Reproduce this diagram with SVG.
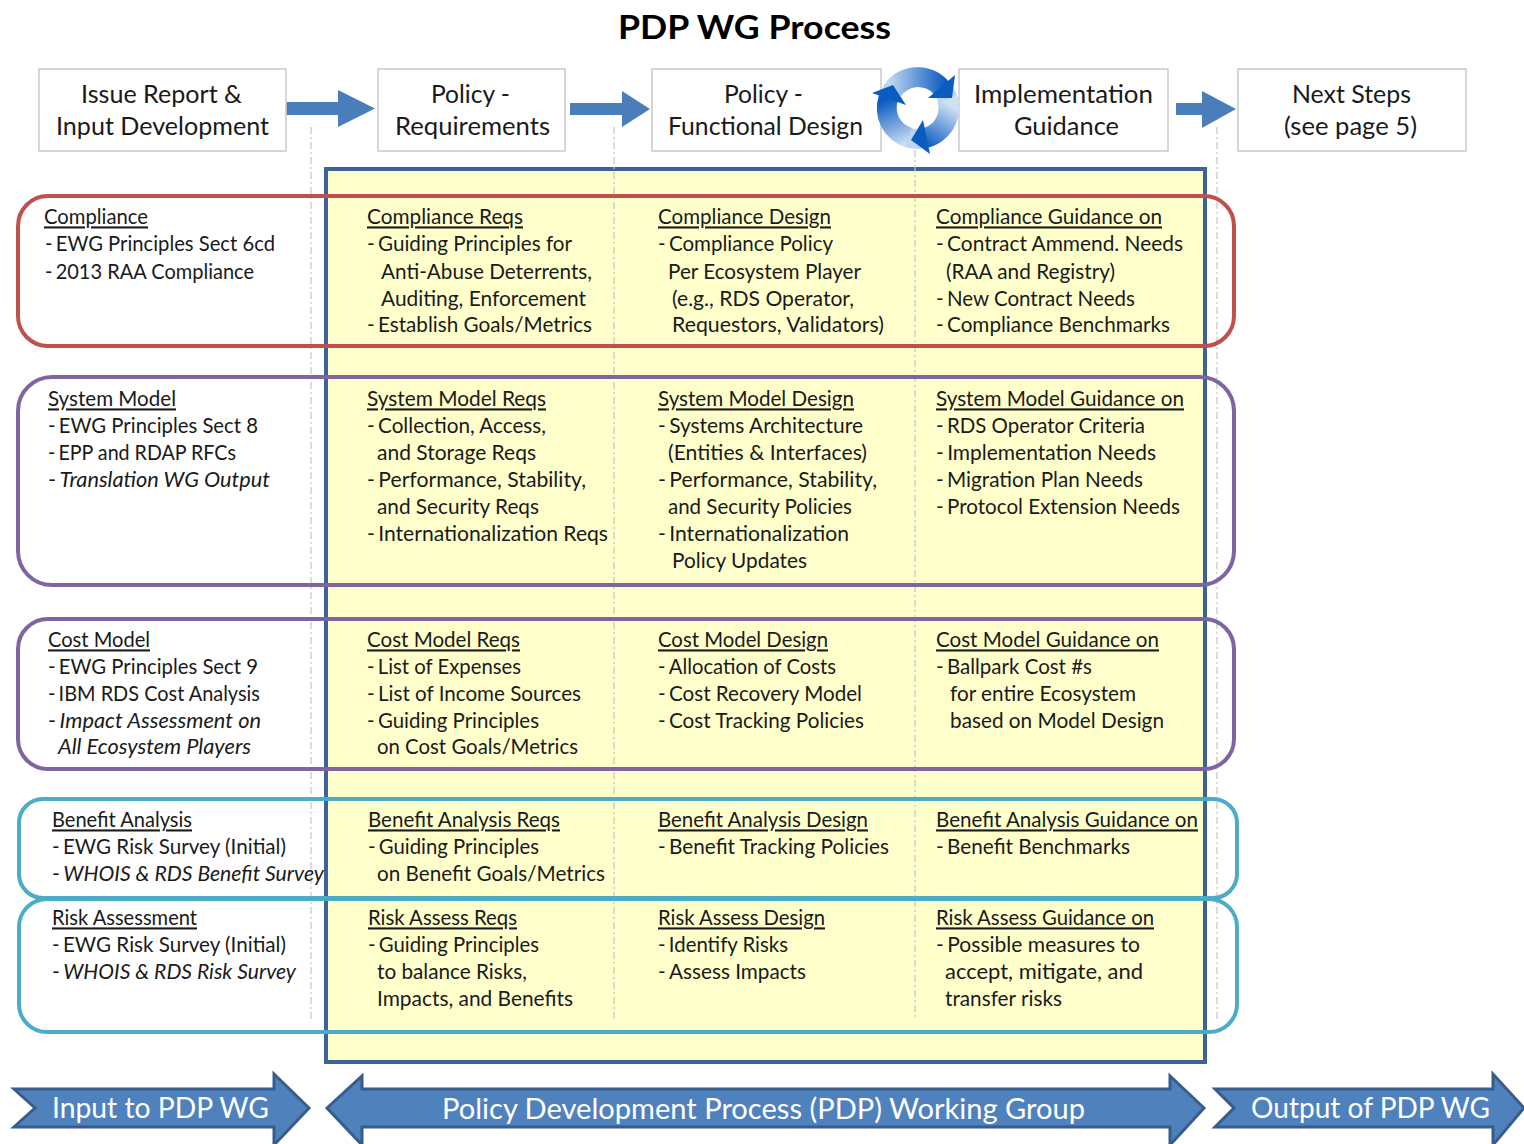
<svg xmlns="http://www.w3.org/2000/svg" width="1524" height="1144" viewBox="0 0 1524 1144">
<style>
text{font-family:Lato,"Liberation Sans",sans-serif;fill:#1a1a1a}
.b{font-size:21px}
.u{text-decoration:underline}
.i{font-style:italic}
.d{word-spacing:-2px}
.h{font-size:24.5px}
.t{font-size:33px;font-weight:700;fill:#000}
.w{font-size:28px;fill:#fff}
.box{fill:#fff;stroke:#cdcdcd;stroke-width:1.6}
.row{fill:none;stroke-width:4}
.red{stroke:#c0504d}.pur{stroke:#8064a2}.teal{stroke:#4bacc6}
.big{fill:#4f81bd;stroke:#385d8a;stroke-width:3}
.arr{fill:#4a7ebb}
.dash{stroke:#c4c4c4;stroke-width:1.2;stroke-dasharray:7 3 2 3;fill:none}
</style>
<defs>
<linearGradient id="gTop" gradientUnits="userSpaceOnUse" x1="885" y1="88" x2="945" y2="88"><stop offset="0" stop-color="#cfe0f3"/><stop offset="1" stop-color="#0a5cc0"/></linearGradient>
<linearGradient id="gRight" gradientUnits="userSpaceOnUse" x1="950" y1="105" x2="925" y2="145"><stop offset="0" stop-color="#cfe0f3"/><stop offset="1" stop-color="#0a5cc0"/></linearGradient>
<linearGradient id="gLeft" gradientUnits="userSpaceOnUse" x1="905" y1="145" x2="885" y2="100"><stop offset="0" stop-color="#cfe0f3"/><stop offset="1" stop-color="#0a5cc0"/></linearGradient>
</defs>

<text class="t" x="618" y="39" textLength="273" lengthAdjust="spacingAndGlyphs">PDP WG Process</text>

<g id="pdp-panel"><rect x="326" y="169" width="879" height="893" fill="#ffffcc" stroke="#3c6296" stroke-width="4"/></g>

<g id="guides">
<path class="dash" d="M311 127V1020M614 127V1020M915 150V1020M1217 127V1020"/>
</g>

<g id="connectors">
<polygon class="arr" points="286,102 338,102 338,90 375,108.500 338,127 338,115 286,115"/>
<polygon class="arr" points="570,103 622,103 622,91 650,109 622,127 622,115 570,115"/>
<polygon class="arr" points="1176,103 1202,103 1202,91 1236,109 1202,128 1202,115 1176,115"/>
</g>

<g id="step-issue"><rect class="box" x="39" y="69" width="247" height="82"/>
<text class="h" x="81" y="103" textLength="161" lengthAdjust="spacingAndGlyphs">Issue Report &amp;</text>
<text class="h" x="56" y="135" textLength="213" lengthAdjust="spacingAndGlyphs">Input Development</text></g>
<g id="step-req"><rect class="box" x="378" y="69" width="187" height="82"/>
<text class="h" x="431" y="103" textLength="79" lengthAdjust="spacingAndGlyphs">Policy -</text>
<text class="h" x="395" y="135" textLength="155" lengthAdjust="spacingAndGlyphs">Requirements</text></g>
<g id="step-design"><rect class="box" x="652" y="69" width="229" height="82"/>
<text class="h" x="724" y="103" textLength="79" lengthAdjust="spacingAndGlyphs">Policy -</text>
<text class="h" x="668" y="135" textLength="195" lengthAdjust="spacingAndGlyphs">Functional Design</text></g>
<g id="step-impl"><rect class="box" x="959" y="69" width="209" height="82"/>
<text class="h" x="974" y="103" textLength="179" lengthAdjust="spacingAndGlyphs">Implementation</text>
<text class="h" x="1014" y="135" textLength="105" lengthAdjust="spacingAndGlyphs">Guidance</text></g>
<g id="step-next"><rect class="box" x="1238" y="69" width="228" height="82"/>
<text class="h" x="1292" y="103" textLength="119" lengthAdjust="spacingAndGlyphs">Next Steps</text>
<text class="h" x="1284" y="135" textLength="133" lengthAdjust="spacingAndGlyphs">(see page 5)</text></g>

<g id="cycle">
<path fill-rule="evenodd" fill="#bcd5f0" d="M877 108a41 41 0 1 0 82 0a41 41 0 1 0-82 0ZM897 108a21 21 0 1 1 42 0a21 21 0 1 1-42 0Z"/>
<path fill="url(#gTop)" d="M886 82A41 41 0 0 1 949 82L934 94A21 21 0 0 0 901 96Z"/>
<path fill="url(#gRight)" d="M957 95A41 41 0 0 1 926 148L922 128.600A21 21 0 0 0 938 103Z"/>
<path fill="url(#gLeft)" d="M905 147A41 41 0 0 1 879 95L898 100A21 21 0 0 0 912 128Z"/>
<polygon fill="#0a5cc0" points="955,75 952,98 928,98"/>
<polygon fill="#0a5cc0" points="930,154 911,140 923,120"/>
<polygon fill="#0a5cc0" points="872,93 893,85 906,105"/>
</g>

<g id="row-compliance"><rect class="row red" x="18" y="196" width="1216" height="150" rx="30"/>
<g transform="translate(0,-0.6)">
<text class="b u" x="44" y="225" textLength="104" lengthAdjust="spacingAndGlyphs">Compliance</text>
<text class="b" x="45" y="252" textLength="230" lengthAdjust="spacingAndGlyphs"><tspan class="d">- </tspan>EWG Principles Sect 6cd</text>
<text class="b" x="45" y="279.600" textLength="209" lengthAdjust="spacingAndGlyphs"><tspan class="d">- </tspan>2013 RAA Compliance</text>
<text class="b u" x="367" y="225" textLength="156" lengthAdjust="spacingAndGlyphs">Compliance Reqs</text>
<text class="b" x="367" y="252" textLength="205" lengthAdjust="spacingAndGlyphs"><tspan class="d">- </tspan>Guiding Principles for</text>
<text class="b" x="381" y="279.600" textLength="211" lengthAdjust="spacingAndGlyphs">Anti-Abuse Deterrents,</text>
<text class="b" x="381" y="307" textLength="205" lengthAdjust="spacingAndGlyphs">Auditing, Enforcement</text>
<text class="b" x="367" y="332.600" textLength="225" lengthAdjust="spacingAndGlyphs"><tspan class="d">- </tspan>Establish Goals/Metrics</text>
<text class="b u" x="658" y="225" textLength="173" lengthAdjust="spacingAndGlyphs">Compliance Design</text>
<text class="b" x="658" y="252" textLength="175" lengthAdjust="spacingAndGlyphs"><tspan class="d">- </tspan>Compliance Policy</text>
<text class="b" x="668" y="279.600" textLength="193" lengthAdjust="spacingAndGlyphs">Per Ecosystem Player</text>
<text class="b" x="672" y="307" textLength="182" lengthAdjust="spacingAndGlyphs">(e.g., RDS Operator,</text>
<text class="b" x="672" y="332.600" textLength="212" lengthAdjust="spacingAndGlyphs">Requestors, Validators)</text>
<text class="b u" x="936" y="225" textLength="226" lengthAdjust="spacingAndGlyphs">Compliance Guidance on</text>
<text class="b" x="936" y="252" textLength="247" lengthAdjust="spacingAndGlyphs"><tspan class="d">- </tspan>Contract Ammend. Needs</text>
<text class="b" x="946" y="279.600" textLength="169" lengthAdjust="spacingAndGlyphs">(RAA and Registry)</text>
<text class="b" x="936" y="307" textLength="199" lengthAdjust="spacingAndGlyphs"><tspan class="d">- </tspan>New Contract Needs</text>
<text class="b" x="936" y="332.600" textLength="234" lengthAdjust="spacingAndGlyphs"><tspan class="d">- </tspan>Compliance Benchmarks</text>
</g></g>

<g id="row-system"><rect class="row pur" x="18" y="377" width="1216" height="208" rx="34"/>
<g transform="translate(0,-0.6)">
<text class="b u" x="48" y="407" textLength="128" lengthAdjust="spacingAndGlyphs">System Model</text>
<text class="b" x="48" y="434" textLength="210" lengthAdjust="spacingAndGlyphs"><tspan class="d">- </tspan>EWG Principles Sect 8</text>
<text class="b" x="48" y="461" textLength="188" lengthAdjust="spacingAndGlyphs"><tspan class="d">- </tspan>EPP and RDAP RFCs</text>
<text class="b" x="48" y="488" textLength="222" lengthAdjust="spacingAndGlyphs"><tspan class="d">- </tspan><tspan class="i">Translation WG Output</tspan></text>
<text class="b u" x="367" y="407" textLength="179" lengthAdjust="spacingAndGlyphs">System Model Reqs</text>
<text class="b" x="367" y="434" textLength="179" lengthAdjust="spacingAndGlyphs"><tspan class="d">- </tspan>Collection, Access,</text>
<text class="b" x="377" y="461" textLength="159" lengthAdjust="spacingAndGlyphs">and Storage Reqs</text>
<text class="b" x="367" y="488" textLength="219" lengthAdjust="spacingAndGlyphs"><tspan class="d">- </tspan>Performance, Stability,</text>
<text class="b" x="377" y="515" textLength="162" lengthAdjust="spacingAndGlyphs">and Security Reqs</text>
<text class="b" x="367" y="542" textLength="241" lengthAdjust="spacingAndGlyphs"><tspan class="d">- </tspan>Internationalization Reqs</text>
<text class="b u" x="658" y="407" textLength="196" lengthAdjust="spacingAndGlyphs">System Model Design</text>
<text class="b" x="658" y="434" textLength="205" lengthAdjust="spacingAndGlyphs"><tspan class="d">- </tspan>Systems Architecture</text>
<text class="b" x="668" y="461" textLength="199" lengthAdjust="spacingAndGlyphs">(Entities &amp; Interfaces)</text>
<text class="b" x="658" y="488" textLength="219" lengthAdjust="spacingAndGlyphs"><tspan class="d">- </tspan>Performance, Stability,</text>
<text class="b" x="668" y="515" textLength="184" lengthAdjust="spacingAndGlyphs">and Security Policies</text>
<text class="b" x="658" y="542" textLength="191" lengthAdjust="spacingAndGlyphs"><tspan class="d">- </tspan>Internationalization</text>
<text class="b" x="672" y="569" textLength="135" lengthAdjust="spacingAndGlyphs">Policy Updates</text>
<text class="b u" x="936" y="407" textLength="248" lengthAdjust="spacingAndGlyphs">System Model Guidance on</text>
<text class="b" x="936" y="434" textLength="209" lengthAdjust="spacingAndGlyphs"><tspan class="d">- </tspan>RDS Operator Criteria</text>
<text class="b" x="936" y="461" textLength="220" lengthAdjust="spacingAndGlyphs"><tspan class="d">- </tspan>Implementation Needs</text>
<text class="b" x="936" y="488" textLength="207" lengthAdjust="spacingAndGlyphs"><tspan class="d">- </tspan>Migration Plan Needs</text>
<text class="b" x="936" y="515" textLength="244" lengthAdjust="spacingAndGlyphs"><tspan class="d">- </tspan>Protocol Extension Needs</text>
</g></g>

<g id="row-cost"><rect class="row pur" x="18" y="619" width="1216" height="150" rx="30"/>
<g transform="translate(0,-0.6)">
<text class="b u" x="48" y="648" textLength="102" lengthAdjust="spacingAndGlyphs">Cost Model</text>
<text class="b" x="48" y="675" textLength="210" lengthAdjust="spacingAndGlyphs"><tspan class="d">- </tspan>EWG Principles Sect 9</text>
<text class="b" x="48" y="702" textLength="212" lengthAdjust="spacingAndGlyphs"><tspan class="d">- </tspan>IBM RDS Cost Analysis</text>
<text class="b" x="48" y="729" textLength="213" lengthAdjust="spacingAndGlyphs"><tspan class="d">- </tspan><tspan class="i">Impact Assessment on</tspan></text>
<text class="b i" x="58" y="755" textLength="193" lengthAdjust="spacingAndGlyphs">All Ecosystem Players</text>
<text class="b u" x="367" y="648" textLength="153" lengthAdjust="spacingAndGlyphs">Cost Model Reqs</text>
<text class="b" x="367" y="675" textLength="154" lengthAdjust="spacingAndGlyphs"><tspan class="d">- </tspan>List of Expenses</text>
<text class="b" x="367" y="702" textLength="214" lengthAdjust="spacingAndGlyphs"><tspan class="d">- </tspan>List of Income Sources</text>
<text class="b" x="367" y="729" textLength="172" lengthAdjust="spacingAndGlyphs"><tspan class="d">- </tspan>Guiding Principles</text>
<text class="b" x="377" y="755" textLength="201" lengthAdjust="spacingAndGlyphs">on Cost Goals/Metrics</text>
<text class="b u" x="658" y="648" textLength="170" lengthAdjust="spacingAndGlyphs">Cost Model Design</text>
<text class="b" x="658" y="675" textLength="178" lengthAdjust="spacingAndGlyphs"><tspan class="d">- </tspan>Allocation of Costs</text>
<text class="b" x="658" y="702" textLength="204" lengthAdjust="spacingAndGlyphs"><tspan class="d">- </tspan>Cost Recovery Model</text>
<text class="b" x="658" y="729" textLength="206" lengthAdjust="spacingAndGlyphs"><tspan class="d">- </tspan>Cost Tracking Policies</text>
<text class="b u" x="936" y="648" textLength="223" lengthAdjust="spacingAndGlyphs">Cost Model Guidance on</text>
<text class="b" x="936" y="675" textLength="156" lengthAdjust="spacingAndGlyphs"><tspan class="d">- </tspan>Ballpark Cost #s</text>
<text class="b" x="950" y="702" textLength="186" lengthAdjust="spacingAndGlyphs">for entire Ecosystem</text>
<text class="b" x="950" y="729" textLength="214" lengthAdjust="spacingAndGlyphs">based on Model Design</text>
</g></g>

<g id="row-benefit"><rect class="row teal" x="19" y="799" width="1218" height="99" rx="24"/>
<g transform="translate(0,-0.6)">
<text class="b u" x="52" y="828" textLength="140" lengthAdjust="spacingAndGlyphs">Benefit Analysis</text>
<text class="b" x="52" y="855" textLength="234" lengthAdjust="spacingAndGlyphs"><tspan class="d">- </tspan>EWG Risk Survey (Initial)</text>
<text class="b" x="52" y="882" textLength="272" lengthAdjust="spacingAndGlyphs"><tspan class="d">- </tspan><tspan class="i">WHOIS &amp; RDS Benefit Survey</tspan></text>
<text class="b u" x="368" y="828" textLength="192" lengthAdjust="spacingAndGlyphs">Benefit Analysis Reqs</text>
<text class="b" x="368" y="855" textLength="171" lengthAdjust="spacingAndGlyphs"><tspan class="d">- </tspan>Guiding Principles</text>
<text class="b" x="377" y="882" textLength="228" lengthAdjust="spacingAndGlyphs">on Benefit Goals/Metrics</text>
<text class="b u" x="658" y="828" textLength="210" lengthAdjust="spacingAndGlyphs">Benefit Analysis Design</text>
<text class="b" x="658" y="855" textLength="231" lengthAdjust="spacingAndGlyphs"><tspan class="d">- </tspan>Benefit Tracking Policies</text>
<text class="b u" x="936" y="828" textLength="262" lengthAdjust="spacingAndGlyphs">Benefit Analysis Guidance on</text>
<text class="b" x="936" y="855" textLength="194" lengthAdjust="spacingAndGlyphs"><tspan class="d">- </tspan>Benefit Benchmarks</text>
</g></g>

<g id="row-risk"><rect class="row teal" x="19" y="899" width="1218" height="133" rx="28"/>
<g transform="translate(0,-0.6)">
<text class="b u" x="52" y="926" textLength="145" lengthAdjust="spacingAndGlyphs">Risk Assessment</text>
<text class="b" x="52" y="953" textLength="234" lengthAdjust="spacingAndGlyphs"><tspan class="d">- </tspan>EWG Risk Survey (Initial)</text>
<text class="b" x="52" y="980" textLength="244" lengthAdjust="spacingAndGlyphs"><tspan class="d">- </tspan><tspan class="i">WHOIS &amp; RDS Risk Survey</tspan></text>
<text class="b u" x="368" y="926" textLength="149" lengthAdjust="spacingAndGlyphs">Risk Assess Reqs</text>
<text class="b" x="368" y="953" textLength="171" lengthAdjust="spacingAndGlyphs"><tspan class="d">- </tspan>Guiding Principles</text>
<text class="b" x="377" y="980" textLength="150" lengthAdjust="spacingAndGlyphs">to balance Risks,</text>
<text class="b" x="377" y="1007" textLength="196" lengthAdjust="spacingAndGlyphs">Impacts, and Benefits</text>
<text class="b u" x="658" y="926" textLength="167" lengthAdjust="spacingAndGlyphs">Risk Assess Design</text>
<text class="b" x="658" y="953" textLength="130" lengthAdjust="spacingAndGlyphs"><tspan class="d">- </tspan>Identify Risks</text>
<text class="b" x="658" y="980" textLength="148" lengthAdjust="spacingAndGlyphs"><tspan class="d">- </tspan>Assess Impacts</text>
<text class="b u" x="936" y="926" textLength="218" lengthAdjust="spacingAndGlyphs">Risk Assess Guidance on</text>
<text class="b" x="936" y="953" textLength="204" lengthAdjust="spacingAndGlyphs"><tspan class="d">- </tspan>Possible measures to</text>
<text class="b" x="945" y="980" textLength="198" lengthAdjust="spacingAndGlyphs">accept, mitigate, and</text>
<text class="b" x="945" y="1007" textLength="117" lengthAdjust="spacingAndGlyphs">transfer risks</text>
</g></g>

<g id="band-input"><polygon class="big" points="14,1089 274,1089 274,1074 309,1108 274,1145 274,1127 14,1127 35,1108"/>
<text class="w" x="52" y="1118" textLength="217" lengthAdjust="spacingAndGlyphs">Input to PDP WG</text></g>
<g id="band-pdp"><polygon class="big" points="327,1108 362,1076 362,1089 1170,1089 1170,1076 1204,1108 1170,1145 1170,1127 362,1127 362,1145"/>
<text class="w" x="442" y="1119" textLength="643" lengthAdjust="spacingAndGlyphs">Policy Development Process (PDP) Working Group</text></g>
<g id="band-output"><polygon class="big" points="1215,1089 1493,1089 1493,1074 1524,1108 1493,1145 1493,1127 1215,1127 1234,1108"/>
<text class="w" x="1251" y="1118" textLength="239" lengthAdjust="spacingAndGlyphs">Output of PDP WG</text></g>
</svg>
